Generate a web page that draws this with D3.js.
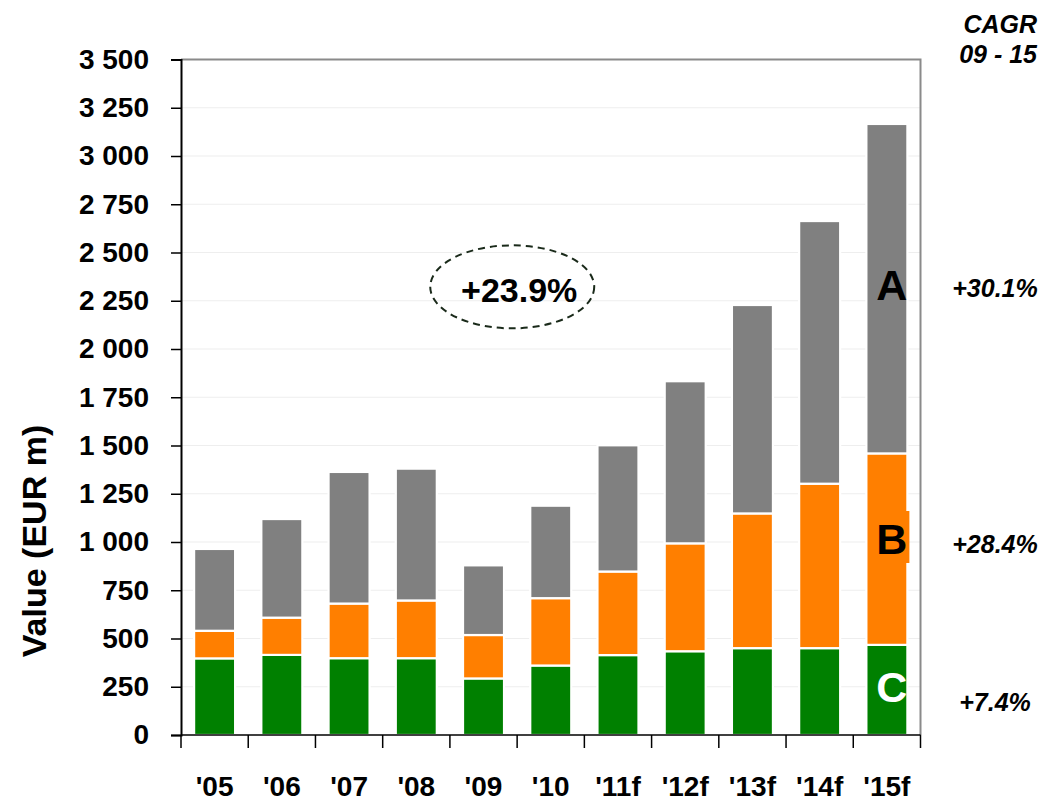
<!DOCTYPE html>
<html>
<head>
<meta charset="utf-8">
<script src="https://cdn.jsdelivr.net/npm/d3@7"></script>
<style>
  html, body { margin: 0; padding: 0; background: #ffffff; }
  svg { display: block; font-family: "Liberation Sans", Arial, sans-serif; }
</style>
</head>
<body>
<svg id="chart" width="1044" height="803"></svg>
<script>
// Market value by segment, EUR m (stacked: C at the bottom, then B, then A)
const years = ["'05", "'06", "'07", "'08", "'09", "'10", "'11f", "'12f", "'13f", "'14f", "'15f"];
const segC = [397, 415, 398, 398, 293, 360, 414, 434, 450, 450, 467];
const segB = [143, 193, 283, 299, 225, 349, 433, 559, 698, 852, 992];
const segA = [424, 511, 682, 683, 361, 479, 654, 840, 1080, 1361, 1707];
const yTicks = [0, 250, 500, 750, 1000, 1250, 1500, 1750, 2000, 2250, 2500, 2750, 3000, 3250, 3500];
const cagrLabels = ["+30.1%", "+28.4%", "+7.4%"];
const totalCagr = "+23.9%";

const svg = d3.select("#chart");
const plotLeft = 181, plotRight = 920.5, plotTop = 59.5, plotBottom = 735;

const x = d3.scaleBand().domain(years).range([plotLeft, plotRight])
  .paddingInner(0.39).paddingOuter(0.195);
const y = d3.scaleLinear().domain([0, 3500]).range([plotBottom, plotTop]);

// horizontal gridlines
svg.append("g").selectAll("line").data(yTicks.slice(1)).join("line")
  .attr("x1", plotLeft).attr("x2", plotRight)
  .attr("y1", d => y(d)).attr("y2", d => y(d))
  .attr("stroke", "#eeeeee").attr("stroke-width", 1.2);

// plot frame (top and right)
svg.append("path")
  .attr("d", `M${plotLeft},${plotTop}H${plotRight}V${plotBottom}`)
  .attr("fill", "none").attr("stroke", "#8a8a8a").attr("stroke-width", 2);

// stacked bars
const rows = years.map((yr, i) => ({ year: yr, C: segC[i], B: segB[i], A: segA[i] }));
const stack = d3.stack().keys(["C", "B", "A"])(rows);
const colors = { C: "#008000", B: "#ff7f00", A: "#808080" };

svg.append("g").selectAll("g").data(stack).join("g")
  .attr("fill", s => colors[s.key])
  .selectAll("rect").data(s => s).join("rect")
  .attr("x", d => x(d.data.year))
  .attr("width", x.bandwidth())
  .attr("y", d => y(d[1]))
  .attr("height", d => y(d[0]) - y(d[1]))
  .attr("stroke", "#ffffff").attr("stroke-width", 2.2);

// y axis
const yAxis = d3.axisLeft(y).tickValues(yTicks).tickSize(10).tickPadding(22)
  .tickFormat(d => d3.format(",")(d).replace(/,/g, " "));
const gy = svg.append("g").attr("transform", `translate(${plotLeft},0)`).call(yAxis);
gy.select(".domain").attr("stroke", "#000").attr("stroke-width", 2);
gy.selectAll(".tick line").attr("stroke", "#000").attr("stroke-width", 1.5);
gy.selectAll(".tick text")
  .attr("font-family", "'Liberation Sans', Arial, sans-serif")
  .attr("font-size", 28).attr("font-weight", "bold").attr("fill", "#000");

// x axis line and band-boundary ticks
svg.append("line").attr("x1", plotLeft).attr("x2", plotRight)
  .attr("y1", plotBottom).attr("y2", plotBottom)
  .attr("stroke", "#000").attr("stroke-width", 1.5);
const edges = d3.range(years.length + 1).map(i => plotLeft + i * x.step());
svg.append("g").selectAll("line").data(edges).join("line")
  .attr("x1", d => d).attr("x2", d => d)
  .attr("y1", plotBottom).attr("y2", plotBottom + 13)
  .attr("stroke", "#000").attr("stroke-width", 1.5);

svg.append("g").selectAll("text").data(years).join("text")
  .attr("x", d => x(d) + x.bandwidth() / 2)
  .attr("y", 796)
  .attr("text-anchor", "middle")
  .attr("font-size", 28).attr("font-weight", "bold")
  .text(d => d);

// y axis title
svg.append("text")
  .attr("transform", "translate(46,541) rotate(-90)")
  .attr("text-anchor", "middle")
  .attr("font-size", 34).attr("font-weight", "bold")
  .text("Value (EUR m)");

// total growth bubble
const bx = x("'09") + x.bandwidth() * 1.2;
const by = y(2322);
svg.append("ellipse")
  .attr("cx", bx).attr("cy", by).attr("rx", 82).attr("ry", 41.5)
  .attr("fill", "none").attr("stroke", "#1a2a1a").attr("stroke-width", 2)
  .attr("stroke-dasharray", "7,5");
svg.append("text")
  .attr("x", bx + 7).attr("y", by + 15)
  .attr("text-anchor", "middle")
  .attr("font-size", 34).attr("font-weight", "bold")
  .text(totalCagr);

// segment letters inside the last bar
const last = years[years.length - 1];
const lx = x(last) + x.bandwidth() / 2 + 5;
svg.append("rect")
  .attr("x", x(last) + 2).attr("width", x.bandwidth())
  .attr("y", 511).attr("height", 52).attr("fill", colors.B);
const letters = [
  { t: "A", v: 2254, fill: "#000" },
  { t: "B", v: 938, fill: "#000" },
  { t: "C", v: 171, fill: "#fff" }
];
svg.append("g").selectAll("text").data(letters).join("text")
  .attr("x", lx).attr("y", d => y(d.v))
  .attr("text-anchor", "middle")
  .attr("font-size", 43).attr("font-weight", "bold")
  .attr("fill", d => d.fill)
  .text(d => d.t);

// CAGR column
svg.append("text").attr("x", 1037).attr("y", 33)
  .attr("text-anchor", "end").attr("font-size", 25)
  .attr("font-weight", "bold").attr("font-style", "italic").text("CAGR");
svg.append("text").attr("x", 1037).attr("y", 63)
  .attr("text-anchor", "end").attr("font-size", 25)
  .attr("font-weight", "bold").attr("font-style", "italic").text("09 - 15");
const cagrY = [2270, 945, 124];
svg.append("g").selectAll("text").data(cagrLabels).join("text")
  .attr("x", 995).attr("y", (d, i) => y(cagrY[i]))
  .attr("text-anchor", "middle").attr("font-size", 25)
  .attr("font-weight", "bold").attr("font-style", "italic")
  .text(d => d);
</script>
</body>
</html>
